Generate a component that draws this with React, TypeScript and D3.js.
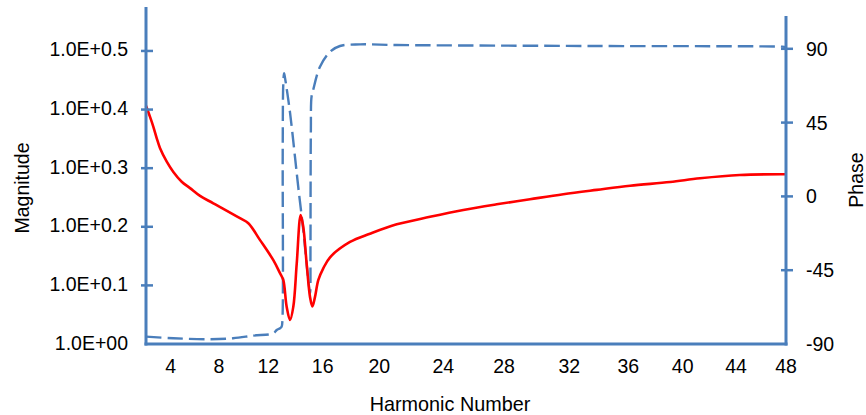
import React from 'react';
import * as d3 from 'd3';

// harmonic number, magnitude
const magnitudeSeries: [number, number][] = [
  [2, 2.55], [2.32, 2.443], [2.59, 2.35], [2.87, 2.244], [3.13, 2.16],
  [3.68, 2.047], [4.22, 1.966], [4.91, 1.892], [5.6, 1.845], [6.43, 1.789],
  [7.53, 1.738], [9.7, 1.639],
  [10.38, 1.607], [11.33, 1.504], [12.37, 1.39],
  [12.86, 1.321], [13.1, 1.286], [13.35, 1.158], [13.6, 1.099], [13.84, 1.158],
  [14.09, 1.371], [14.38, 1.66], [14.57, 1.585], [14.82, 1.371], [15.07, 1.202],
  [15.24, 1.159], [15.43, 1.202], [15.68, 1.286], [16.04, 1.346], [16.52, 1.406],
  [17.93, 1.493], [19.34, 1.542], [21.09, 1.6], [23.17, 1.648], [25.32, 1.693],
  [27.52, 1.731], [29.59, 1.766], [31.63, 1.801], [33.86, 1.832], [36.13, 1.862],
  [39.07, 1.89], [41.3, 1.918], [44.3, 1.943], [48, 1.948],
];

// harmonic number, phase in degrees (blue dashed curve)
const phaseSeries: [number, number][] = [
  [2, -85.5], [4.22, -86.5], [6.98, -87.1], [9.14, -86.5], [10.78, -84.9],
  [12.37, -83.5], [12.62, -81.5], [12.86, -80.4], [12.98, -79.5], [13.04, -75],
  [13.06, 28], [13.1, 68], [13.16, 75.1], [13.23, 72.2], [13.6, 50.9],
  [13.96, 24.2], [14.2, 5.9], [14.57, -20.5], [14.94, -51], [15.07, -58.9],
  [15.1, -33], [15.11, 8], [15.13, 40.5], [15.18, 60.8], [15.3, 64.9],
  [15.8, 79.1], [16.52, 88.2], [17.22, 91.7], [18.64, 92.7], [21.09, 92.3],
  [34.08, 91.7], [47.7, 91.3], [48, 91.1],
];

const harmonicTicks = [4, 8, 12, 16, 20, 24, 28, 32, 36, 40, 44, 48];
const magnitudeExponents = [0, 0.1, 0.2, 0.3, 0.4, 0.5];
const magnitudeLabels = ['1.0E+00', '1.0E+0.1', '1.0E+0.2', '1.0E+0.3', '1.0E+0.4', '1.0E+0.5'];
const phaseTicks = [-90, -45, 0, 45, 90];

const W = 866;
const H = 415;
const left = 146;
const bottom = 344;
const right = 786;
const blue = '#4a7ebb';
const font = '"Liberation Sans", Arial, sans-serif';
const fs = 19.5;

// the category labels in the source are not evenly spaced, so the x scale is piecewise
const xStops = [0, 24.7, 73, 122.3, 176.7, 233.3, 297.3, 358, 423.3, 482.3, 536.7, 590, 640];

export default function App() {
  const x = d3
    .scaleLinear()
    .domain([2, ...harmonicTicks])
    .range(xStops.map((o) => left + o));
  const yMag = d3.scaleLog().domain([1, Math.pow(10, 0.575)]).range([bottom, 7]);
  const yPhase = d3.scaleLinear().domain([-90, 110]).range([bottom, 16]);

  const magLine = d3
    .line<[number, number]>()
    .x((d) => x(d[0]))
    .y((d) => yMag(d[1]))
    .curve(d3.curveCatmullRom.alpha(0.5));
  const phaseLine = d3
    .line<[number, number]>()
    .x((d) => x(d[0]))
    .y((d) => yPhase(d[1]))
    .curve(d3.curveCatmullRom.alpha(0.5));

  return (
    <svg
      width={W}
      height={H}
      style={{ position: 'absolute', left: 0, top: 0, background: '#fff' }}
      fontFamily={font}
      fontSize={fs}
    >
      <path d={phaseLine(phaseSeries) ?? ''} fill="none" stroke={blue} strokeWidth={2.4} strokeDasharray="15.5,6" />
      <path d={magLine(magnitudeSeries) ?? ''} fill="none" stroke="#ff0000" strokeWidth={2.6} strokeLinejoin="round" />

      {/* axes */}
      <line x1={left} x2={left} y1={yMag.range()[1]} y2={bottom + 1.5} stroke={blue} strokeWidth={3} />
      <line x1={right} x2={right} y1={yPhase.range()[1]} y2={bottom + 1.5} stroke={blue} strokeWidth={3} />
      <line x1={left - 1.5} x2={right + 1.5} y1={bottom} y2={bottom} stroke={blue} strokeWidth={3} />

      {magnitudeExponents.map((e, i) => {
        const y = yMag(Math.pow(10, e));
        return (
          <g key={e}>
            {i > 0 && <line x1={left - 5} x2={left + 7} y1={y} y2={y} stroke={blue} strokeWidth={2.5} />}
            <text x={128} y={y + 5.5} textAnchor="end" fill="#000">
              {magnitudeLabels[i]}
            </text>
          </g>
        );
      })}

      {phaseTicks.map((p) => {
        const y = yPhase(p);
        return (
          <g key={p}>
            {p > -90 && <line x1={right - 5} x2={right + 7} y1={y} y2={y} stroke={blue} strokeWidth={2.5} />}
            <text x={806} y={y + 7} fill="#000">
              {p}
            </text>
          </g>
        );
      })}

      {harmonicTicks.map((h) => (
        <text key={h} x={x(h)} y={373} textAnchor="middle" fill="#000">
          {h}
        </text>
      ))}

      <text x={450} y={411} textAnchor="middle" fill="#000" fontSize={19.8}>
        Harmonic Number
      </text>
      <text transform="translate(22,188) rotate(-90)" textAnchor="middle" dominantBaseline="central" fill="#000">
        Magnitude
      </text>
      <text transform="translate(856,180) rotate(-90)" textAnchor="middle" dominantBaseline="central" fill="#000">
        Phase
      </text>
    </svg>
  );
}
